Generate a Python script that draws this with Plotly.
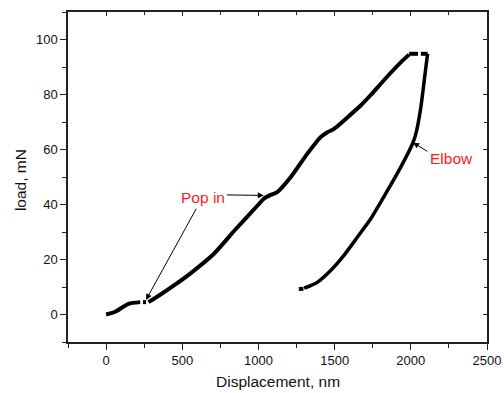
import plotly.graph_objects as go

# Loading branch (displacement nm, load mN); None = pop-in gaps
load_x = [0, 60, 147, 224, None, 242, 262, None, 278, 350, 443, 550, 706, 850, 1000, 1035, 1080, 1123, 1211, 1320, 1408, 1450, 1496, 1580, 1671, 1740, 1803, 1870, 1934, 1989]
load_y = [0, 1.0, 3.9, 4.5, None, 4.5, 4.5, None, 4.5, 7.0, 10.5, 14.8, 22, 31, 40, 42.1, 43.5, 44.5, 49.9, 58.4, 64.5, 66.2, 67.5, 71.5, 76, 80, 83.9, 88, 91.7, 94.5]

# Hold at max load (dashed plateau)
hold_x = [1989, 2047, 2066, 2110]
hold_y = [94.8, 94.8, 94.8, 94.8]

# Unloading branch
unload_x = [2110, 2088, 2066, 2033, 2011, 1934, 1847, 1737, 1649, 1561, 1474, 1386, 1342, 1300]
unload_y = [94.8, 85.1, 75.4, 65.7, 62.1, 53.6, 45.1, 34.8, 28.1, 21.5, 16.0, 11.7, 10.5, 9.6]
tail_x = [1265, 1295]
tail_y = [9.3, 9.3]

x_ticks = [0, 500, 1000, 1500, 2000, 2500]
y_ticks = [0, 20, 40, 60, 80, 100]

font = "Liberation Sans, Arial, sans-serif"

fig = go.Figure()
fig.add_trace(go.Scatter(x=load_x, y=load_y, mode="lines",
                         line=dict(color="black", width=4, shape="spline", smoothing=0.6),
                         connectgaps=False))
fig.add_trace(go.Scatter(x=hold_x[:2], y=hold_y[:2], mode="lines",
                         line=dict(color="black", width=4)))
fig.add_trace(go.Scatter(x=hold_x[2:], y=hold_y[2:], mode="lines",
                         line=dict(color="black", width=4)))
fig.add_trace(go.Scatter(x=unload_x, y=unload_y, mode="lines",
                         line=dict(color="black", width=3.5, shape="spline", smoothing=0.6)))
fig.add_trace(go.Scatter(x=tail_x, y=tail_y, mode="lines",
                         line=dict(color="black", width=4)))
# invisible anchor for mirrored axes
fig.add_trace(go.Scatter(x=[None], y=[None], xaxis="x2", yaxis="y2",
                         mode="lines", hoverinfo="skip"))

xr = [-250, 2500]
yr = [-10, 110]

fig.update_layout(
    width=504, height=393,
    margin=dict(l=68, r=17, t=12, b=51),
    paper_bgcolor="white", plot_bgcolor="white",
    showlegend=False,
    font=dict(family=font, size=13, color="#111"),
    xaxis=dict(range=xr, tickvals=x_ticks, ticks="outside", ticklen=6, tickwidth=1.2,
               tickcolor="#222", showline=True, linecolor="#222", linewidth=1.5,
               showgrid=False, zeroline=False, automargin=False,
               minor=dict(dtick=250, tick0=0, ticks="outside", ticklen=4, tickcolor="#222")),
    yaxis=dict(range=yr, tickvals=y_ticks, ticks="outside", ticklen=6, tickwidth=1.2,
               tickcolor="#222", showline=True, linecolor="#222", linewidth=1.5,
               showgrid=False, zeroline=False, automargin=False,
               minor=dict(dtick=10, tick0=0, ticks="outside", ticklen=4, tickcolor="#222")),
    xaxis2=dict(range=xr, overlaying="x", side="top", anchor="y2", tickvals=x_ticks,
                ticks="inside", ticklen=4, tickcolor="#222", showticklabels=False,
                showline=True, linecolor="#222", linewidth=1.5, showgrid=False, zeroline=False,
                automargin=False,
                minor=dict(dtick=250, tick0=0, ticks="inside", ticklen=3, tickcolor="#222")),
    yaxis2=dict(range=yr, overlaying="y", side="right", anchor="x2", tickvals=y_ticks,
                ticks="inside", ticklen=4, tickcolor="#222", showticklabels=False,
                showline=True, linecolor="#222", linewidth=1.5, showgrid=False, zeroline=False,
                automargin=False,
                minor=dict(dtick=10, tick0=0, ticks="inside", ticklen=3, tickcolor="#222")),
)

# axis titles as paper annotations for precise placement
fig.add_annotation(xref="paper", yref="paper", x=0.5, y=-0.12, yanchor="middle",
                   text="Displacement, nm", showarrow=False,
                   font=dict(size=15.5, family=font, color="#111"))
fig.add_annotation(xref="paper", yref="paper", x=-0.115, y=0.49, xanchor="center",
                   yanchor="middle", textangle=-90, text="load, mN", showarrow=False,
                   font=dict(size=15.5, family=font, color="#111"))

red = "#ff1a1a"
fig.add_annotation(x=635, y=42.7, text="Pop in", showarrow=False,
                   font=dict(color=red, size=15.5, family=font))
fig.add_annotation(x=2266, y=56.6, text="Elbow", showarrow=False,
                   font=dict(color=red, size=15.5, family=font))

arrows = [((597, 39), (262, 5.3)), ((783, 43.5), (1035, 43.3)), ((2118, 59), (2015, 62.5))]
for (tx, ty), (hx, hy) in arrows:
    fig.add_annotation(x=hx, y=hy, ax=tx, ay=ty, axref="x", ayref="y", text="",
                       showarrow=True, arrowhead=2, arrowsize=1.2, arrowwidth=1,
                       arrowcolor="black", standoff=0)

fig.write_html("out.html")
